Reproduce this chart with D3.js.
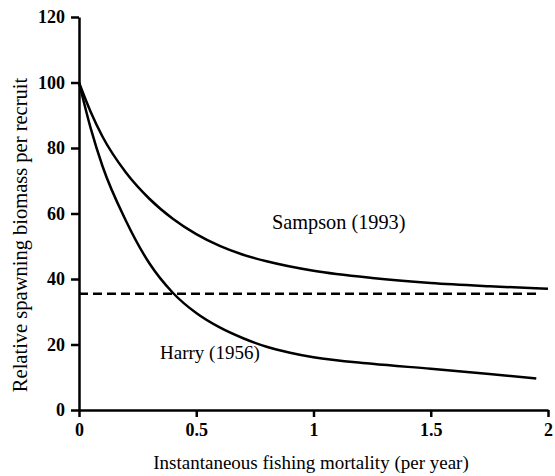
<!DOCTYPE html>
<head>
  <meta charset="utf-8">
  <script src="https://d3js.org/d3.v7.min.js"></script>
  <style>
body { margin: 0; background: #fff; }
svg text { font-family: "Liberation Serif", Tinos, "Times New Roman", Times, "DejaVu Serif", serif; fill: #000; }
.tick text { font-size: 18px; font-weight: bold; }
.tick line, .domain { stroke: #000; stroke-width: 2.5px; }
.curve { fill: none; stroke: #000; stroke-width: 2.5px; }
.ref { fill: none; stroke: #000; stroke-width: 2.5px; stroke-dasharray: 9 5; }
.axis-title { font-size: 19px; }
.y-title { font-size: 20.5px; }
.label { font-size: 19px; }
.label.sampson { font-size: 20.3px; }
  </style>
</head>

<body>
  <script>
    // values
    var mortality = [0, 0.05, 0.1, 0.2, 0.3, 0.4, 0.5, 0.6, 0.7, 0.8, 1.0, 1.25, 1.5, 1.75, 2.0];
    var sampson   = [100, 91, 83.5, 72.5, 64.5, 58.4, 53.7, 50.1, 47.4, 45.4, 42.5, 40.3, 38.8, 37.8, 37.0];
    var harryF    = [0, 0.05, 0.1, 0.2, 0.3, 0.4, 0.5, 0.6, 0.7, 0.8, 0.9, 1.0, 1.25, 1.5, 1.75, 1.95];
    var harry     = [100, 86, 74.5, 57.8, 44.8, 35.8, 29.6, 25.2, 21.9, 19.3, 17.5, 16.1, 14.1, 12.6, 11.0, 9.6];
    var refLevel  = 35.5;
    var refRange  = [0, 1.97];
    var xTicks = [0, 0.5, 1, 1.5, 2];
    var yTicks = [0, 20, 40, 60, 80, 100, 120];

    var width = 555, height = 476;
    var margin = {top: 17, right: 7, bottom: 66, left: 79};
    var serif = "'Liberation Serif', Tinos, 'Times New Roman', Times, 'DejaVu Serif', serif";

    var svg = d3.select("body").append("svg")
      .attr("width", width)
      .attr("height", height)
      .attr("font-family", serif);

    var x = d3.scaleLinear().domain([0, 2]).range([margin.left, width - margin.right]);
    var y = d3.scaleLinear().domain([0, 120]).range([height - margin.bottom, margin.top]);

    var line = d3.line()
      .x(d => x(d[0]))
      .y(d => y(d[1]))
      .curve(d3.curveMonotoneX);

    // dashed reference level
    svg.append("path")
      .attr("class", "ref")
      .attr("d", line(refRange.map(f => [f, refLevel])));

    svg.append("path")
      .attr("class", "curve")
      .attr("d", line(mortality.map((f, i) => [f, sampson[i]])));

    svg.append("path")
      .attr("class", "curve")
      .attr("d", line(harryF.map((f, i) => [f, harry[i]])));

    svg.append("g")
      .attr("class", "x-axis")
      .attr("transform", "translate(0," + y(0) + ")")
      .call(d3.axisBottom(x).tickValues(xTicks).tickSize(7).tickPadding(6).tickFormat(d3.format("")).tickSizeOuter(0));

    svg.append("g")
      .attr("class", "y-axis")
      .attr("transform", "translate(" + x(0) + ",0)")
      .call(d3.axisLeft(y).tickValues(yTicks).tickSize(8).tickPadding(6).tickSizeOuter(0));

    svg.selectAll(".x-axis, .y-axis").attr("font-family", serif);

    svg.append("text")
      .attr("class", "axis-title")
      .attr("x", 311)
      .attr("y", 469)
      .attr("text-anchor", "middle")
      .text("Instantaneous fishing mortality (per year)");

    svg.append("text")
      .attr("class", "y-title")
      .attr("transform", "translate(27,235) rotate(-90)")
      .attr("text-anchor", "middle")
      .text("Relative spawning biomass per recruit");

    svg.append("text")
      .attr("class", "label sampson")
      .attr("x", 272)
      .attr("y", 229)
      .text("Sampson (1993)");

    svg.append("text")
      .attr("class", "label")
      .attr("x", 160)
      .attr("y", 359)
      .text("Harry (1956)");

    svg.selectAll("text").style("font-family", serif);
  </script>
</body>
